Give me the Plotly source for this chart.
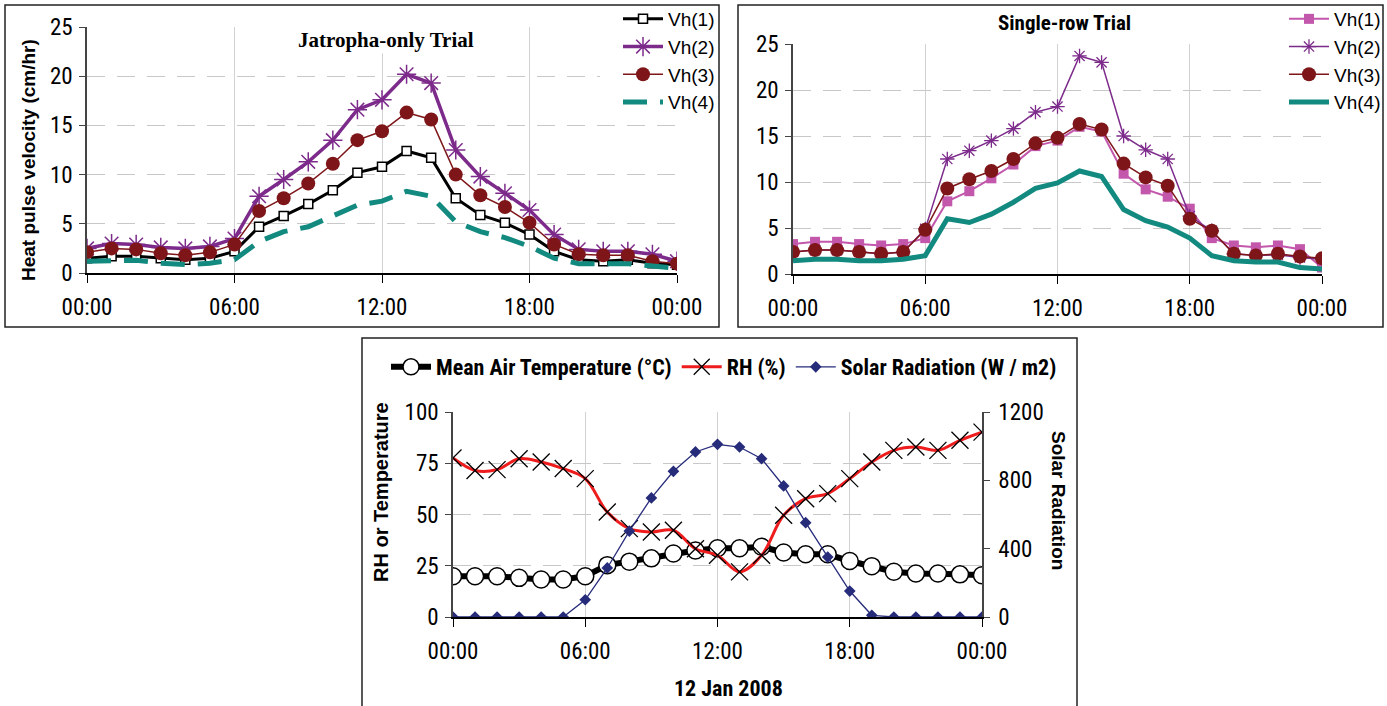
import plotly.graph_objects as go

W, H = 1387, 706

hours = list(range(25))
tick_vals = [0, 6, 12, 18, 24]
tick_text = ["00:00", "06:00", "12:00", "18:00", "00:00"]

# Jatropha-only trial (cm/hr)
j_vh1 = [1.5, 1.7, 1.7, 1.5, 1.35, 1.5, 2.2, 4.7, 5.8, 7.0, 8.4, 10.2, 10.8, 12.4, 11.7,
         7.6, 5.9, 5.1, 3.9, 2.2, 1.35, 1.2, 1.35, 1.0, 0.85]
j_vh2 = [2.5, 3.0, 2.9, 2.6, 2.5, 2.7, 3.5, 7.8, 9.5, 11.3, 13.5, 16.6, 17.6, 20.2, 19.3,
         12.5, 9.8, 8.1, 6.4, 3.9, 2.4, 2.2, 2.2, 1.9, 1.2]
j_vh3 = [2.1, 2.5, 2.4, 2.0, 1.8, 2.1, 2.9, 6.3, 7.6, 9.1, 11.1, 13.5, 14.4, 16.3, 15.6,
         10.0, 7.9, 6.7, 5.1, 2.9, 1.9, 1.8, 1.8, 1.2, 0.95]
j_vh4 = [1.2, 1.3, 1.3, 1.0, 0.85, 1.0, 1.35, 3.2, 4.2, 4.7, 5.8, 6.9, 7.3, 8.3, 7.8,
         5.2, 4.2, 3.6, 2.7, 1.5, 0.95, 0.95, 0.95, 0.7, 0.5]

# Single-row trial (cm/hr)
s_vh1 = [3.25, 3.5, 3.5, 3.25, 3.1, 3.25, 3.9, 7.9, 9.0, 10.4, 11.9, 13.9, 14.5, 16.0, 15.5,
         10.9, 9.2, 8.4, 7.1, 3.9, 3.1, 2.9, 3.1, 2.7, 0.7]
s_vh2 = [2.4, 2.6, 2.6, 2.4, 2.2, 2.4, 4.9, 12.5, 13.4, 14.5, 15.8, 17.6, 18.2, 23.7, 23.0,
         15.0, 13.5, 12.5, 6.3, 4.7, 2.2, 2.0, 2.1, 1.8, 1.6]
s_vh3 = [2.4, 2.6, 2.6, 2.4, 2.2, 2.4, 4.8, 9.3, 10.3, 11.2, 12.5, 14.2, 14.8, 16.3, 15.7,
         12.0, 10.5, 9.6, 6.0, 4.7, 2.2, 2.0, 2.2, 1.9, 1.7]
s_vh4 = [1.45, 1.6, 1.6, 1.45, 1.45, 1.6, 2.0, 6.0, 5.6, 6.5, 7.8, 9.3, 9.9, 11.2, 10.6,
         7.0, 5.8, 5.1, 3.9, 2.0, 1.45, 1.3, 1.3, 0.7, 0.55]

# Weather, 12 Jan 2008
temp = [19.9, 19.9, 19.9, 19.1, 18.3, 18.3, 19.9, 25.3, 27.0, 28.6, 31.0, 32.4, 33.5, 33.5, 34.3,
        31.5, 30.6, 30.6, 27.3, 24.8, 22.1, 21.2, 21.2, 20.8, 20.4]
rh = [77.6, 71.5, 71.9, 77.2, 75.6, 72.4, 67.5, 51.2, 43.1, 41.5, 42.3, 33.3, 30.1, 22.0, 30.1,
      49.6, 57.7, 60.2, 67.5, 75.6, 81.3, 82.9, 81.3, 86.2, 90.2]
solar = [0, 0, 0, 0, 0, 0, 101, 287, 503, 697, 853, 966, 1011, 995, 927,
         767, 552, 351, 152, 10, 0, 0, 0, 0, 0]

NARROW = "Liberation Sans Narrow, Arial Narrow, Roboto Condensed, sans-serif"
SANS = "Liberation Sans, Arial, sans-serif"

PURPLE = "#7D2B8B"
DARKRED = "#7E1518"
TEAL = "#138A80"
PINK = "#C257AC"


def px(x0, x1):
    return [x0 / W, x1 / W]


def py(ytop, ybot):
    return [1 - ybot / H, 1 - ytop / H]


fig = go.Figure()

# ---- Panel 1
fig.add_trace(go.Scatter(x=hours, y=j_vh1, name="Vh(1)", mode="lines+markers", legend="legend",
                         line=dict(color="black", width=3),
                         marker=dict(symbol="square", size=9, color="white", line=dict(color="black", width=1.5)),
                         xaxis="x", yaxis="y"))
fig.add_trace(go.Scatter(x=hours, y=j_vh2, name="Vh(2)", mode="lines+markers", legend="legend",
                         line=dict(color=PURPLE, width=3.5),
                         marker=dict(symbol="asterisk-open", size=16, color=PURPLE, line=dict(color=PURPLE, width=1.5)),
                         xaxis="x", yaxis="y"))
fig.add_trace(go.Scatter(x=hours, y=j_vh3, name="Vh(3)", mode="lines+markers", legend="legend",
                         line=dict(color=DARKRED, width=1.5),
                         marker=dict(symbol="circle", size=14, color=DARKRED),
                         xaxis="x", yaxis="y"))
fig.add_trace(go.Scatter(x=hours, y=j_vh4, name="Vh(4)", mode="lines", legend="legend",
                         line=dict(color=TEAL, width=5, dash="24px,13px"),
                         xaxis="x", yaxis="y"))

# ---- Panel 2
fig.add_trace(go.Scatter(x=hours, y=s_vh1, name="Vh(1)", mode="lines+markers", legend="legend2",
                         line=dict(color=PINK, width=2),
                         marker=dict(symbol="square", size=10, color=PINK),
                         xaxis="x2", yaxis="y2"))
fig.add_trace(go.Scatter(x=hours, y=s_vh2, name="Vh(2)", mode="lines+markers", legend="legend2",
                         line=dict(color=PURPLE, width=1.5),
                         marker=dict(symbol="asterisk-open", size=12, color=PURPLE, line=dict(color=PURPLE, width=1.3)),
                         xaxis="x2", yaxis="y2"))
fig.add_trace(go.Scatter(x=hours, y=s_vh3, name="Vh(3)", mode="lines+markers", legend="legend2",
                         line=dict(color=DARKRED, width=1.5),
                         marker=dict(symbol="circle", size=14, color=DARKRED),
                         xaxis="x2", yaxis="y2"))
fig.add_trace(go.Scatter(x=hours, y=s_vh4, name="Vh(4)", mode="lines", legend="legend2",
                         line=dict(color=TEAL, width=5),
                         xaxis="x2", yaxis="y2"))

# ---- Panel 3
fig.add_trace(go.Scatter(x=hours, y=temp, name="Mean Air Temperature (°C)", mode="lines+markers", legend="legend3",
                         line=dict(color="black", width=6),
                         marker=dict(symbol="circle", size=17, color="white", line=dict(color="black", width=1.5)),
                         xaxis="x3", yaxis="y3", legendrank=1))
fig.add_trace(go.Scatter(x=hours, y=rh, name="RH (%)", mode="lines+markers", legend="legend3",
                         line=dict(color="#EE1C1C", width=3, shape="spline", smoothing=1.0),
                         marker=dict(symbol="x-thin-open", size=17, color="black", line=dict(color="black", width=1.3)),
                         xaxis="x3", yaxis="y3", legendrank=2))
fig.add_trace(go.Scatter(x=hours, y=solar, name="Solar Radiation (W / m2)", mode="lines+markers", legend="legend3",
                         line=dict(color="#262B7A", width=1.3),
                         marker=dict(symbol="diamond", size=9, color="#262B7A"),
                         xaxis="x3", yaxis="y4", legendrank=3))

grid_h = dict(showgrid=True, gridcolor="#C8C8C8", gridwidth=1, griddash="18px,12px")
grid_v = dict(showgrid=True, gridcolor="#D2D2D2", gridwidth=1)

TICKFONT = dict(family=NARROW, size=23, color="black")

xcommon = dict(range=[0, 24], tickvals=tick_vals, ticktext=tick_text, showline=True, linecolor="black",
               linewidth=1.5, ticks="outside", ticklen=8, tickcolor="black", zeroline=False, automargin=False,
               tickfont=TICKFONT, ticklabelstandoff=5, **grid_v)
ycommon = dict(showline=True, linecolor="#444", linewidth=1.5, ticks="outside", ticklen=6, tickcolor="#444",
               zeroline=False, automargin=False, tickfont=TICKFONT, ticklabelstandoff=2, **grid_h)

LEGFONT = dict(family=SANS, size=19, color="black")

layout = dict(
    width=W, height=H, margin=dict(l=0, r=0, t=0, b=0, autoexpand=False), autosize=False,
    paper_bgcolor="white", plot_bgcolor="white",
    xaxis=dict(domain=px(87, 677), anchor="y", **xcommon),
    yaxis=dict(domain=py(27, 273), anchor="x", range=[0, 25], tickvals=[0, 5, 10, 15, 20, 25], **ycommon),
    xaxis2=dict(domain=px(793, 1322), anchor="y2", **xcommon),
    yaxis2=dict(domain=py(44, 274), anchor="x2", range=[0, 25], tickvals=[0, 5, 10, 15, 20, 25], **ycommon),
    xaxis3=dict(domain=px(453, 982), anchor="y3", **xcommon),
    yaxis3=dict(domain=py(412, 617), anchor="x3", range=[0, 100], tickvals=[0, 25, 50, 75, 100], **ycommon),
    yaxis4=dict(domain=py(412, 617), anchor="x3", overlaying="y3", side="right", range=[0, 1200],
                tickvals=[0, 400, 800, 1200], showgrid=False, showline=True, linecolor="#444", linewidth=1.5,
                ticks="outside", ticklen=6, tickcolor="#444", zeroline=False, automargin=False, tickfont=TICKFONT,
                ticklabelstandoff=4),
    legend=dict(xref="container", yref="container", x=618 / W, y=1 + 3 / H, xanchor="left", yanchor="top",
                bgcolor="rgba(0,0,0,0)", font=LEGFONT, tracegroupgap=0, itemwidth=40),
    legend2=dict(xref="container", yref="container", x=1284 / W, y=1 + 3 / H, xanchor="left", yanchor="top",
                 bgcolor="rgba(0,0,0,0)", font=LEGFONT, tracegroupgap=0, itemwidth=40),
    legend3=dict(xref="container", yref="container", x=386 / W, y=1 - 346 / H, xanchor="left", yanchor="top",
                 orientation="h", bgcolor="rgba(0,0,0,0)",
                 font=dict(family=NARROW, size=22, color="black", weight="bold"),
                 itemwidth=40, traceorder="normal"),
    showlegend=True,
)
fig.update_layout(**layout)

# White backgrounds behind the two upper legends (hide grid lines there)
for (x0, y0, x1, y1) in [(600, 7, 717, 112), (1268, 7, 1381, 118)]:
    fig.add_shape(type="rect", xref="paper", yref="paper", x0=x0 / W, x1=x1 / W, y0=1 - y1 / H, y1=1 - y0 / H,
                  line=dict(width=0), fillcolor="white", layer="above")

# Panel borders
for (x0, y0, x1, y1) in [(5, 5, 719, 327), (738, 5, 1383, 327), (362, 338, 1077, 712)]:
    fig.add_shape(type="rect", xref="paper", yref="paper", x0=x0 / W, x1=x1 / W, y0=1 - y1 / H, y1=1 - y0 / H,
                  line=dict(color="#222", width=1.5), fillcolor="rgba(0,0,0,0)", layer="above")

# Titles
ann = dict(xref="paper", yref="paper", showarrow=False, xanchor="center", yanchor="middle")
fig.add_annotation(text="<b>Jatropha-only Trial</b>", x=386 / W, y=1 - 40 / H,
                   font=dict(family="Liberation Serif, Times New Roman, serif", size=21, color="black"),
                   bgcolor="white", **ann)
fig.add_annotation(text="<b>Single-row Trial</b>", x=1064 / W, y=1 - 23 / H,
                   font=dict(family=NARROW, size=21, color="black"), **ann)
fig.add_annotation(text="<b>12 Jan 2008</b>", x=728 / W, y=1 - 688 / H,
                   font=dict(family=NARROW, size=22, color="black"), **ann)
fig.add_annotation(text="<b>Heat pulse velocity (cm/hr)</b>", x=28 / W, y=1 - 160 / H, textangle=-90,
                   font=dict(family=SANS, size=19, color="black"), **ann)
fig.add_annotation(text="<b>RH or Temperature</b>", x=381 / W, y=1 - 492 / H, textangle=-90,
                   font=dict(family=SANS, size=20, color="black"), **ann)
fig.add_annotation(text="<b>Solar Radiation</b>", x=1058 / W, y=1 - 500 / H, textangle=90,
                   font=dict(family=SANS, size=19, color="black"), **ann)

fig.write_html("out.html")
